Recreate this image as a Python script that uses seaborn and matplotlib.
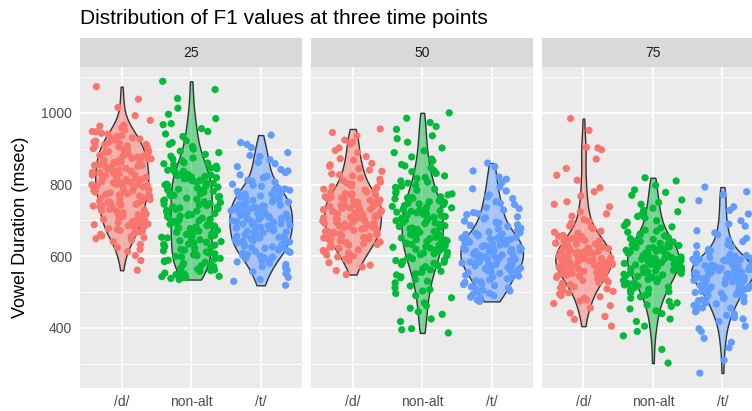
import numpy as np
import pandas as pd
import matplotlib
matplotlib.use("Agg")
import matplotlib.pyplot as plt
import seaborn as sns
from matplotlib.colors import to_rgba
from matplotlib.ticker import FixedLocator

# ---------------- data ----------------
categories = ["/d/", "non-alt", "/t/"]
time_points = [25, 50, 75]
palette = ["#F8766D", "#00BA38", "#619CFF"]

d25 = [1073, 1038, 1015, 992, 979, 966, 958, 947, 941, 936, 930, 927, 925, 921, 918, 912, 910,
       905, 903, 900, 898, 894, 890, 885, 884, 881, 879, 876, 873, 869, 867, 864, 862, 860, 858,
       853, 851, 847, 845, 842, 840, 839, 835, 831, 829, 826, 822, 820, 818, 816, 813, 811, 807,
       804, 801, 799, 797, 795, 792, 788, 786, 782, 779, 777, 774, 772, 770, 766, 763, 760, 755,
       753, 750, 748, 745, 743, 738, 736, 733, 731, 727, 725, 720, 716, 713, 711, 708, 705, 700,
       696, 692, 690, 688, 683, 677, 672, 668, 664, 661, 655, 649, 641, 633, 624, 613, 602, 588, 561,
       948, 934, 915, 907, 896, 887, 877, 871, 856, 849, 837, 833, 824, 814, 809, 802, 793, 784,
       780, 768, 758, 751, 741, 729, 718, 703, 694, 680, 670, 657, 645, 619, 952, 943, 919, 892,
       866, 854, 827, 805, 789, 762, 740, 722, 698, 675, 963, 928, 908, 888, 872, 848, 834, 815,
       798, 771, 747, 709, 685, 652]
n25 = [1088, 1040, 1013, 996, 984, 967, 956, 941, 934, 922, 917, 906, 899, 893, 884, 879, 871,
       866, 861, 855, 851, 846, 840, 837, 833, 828, 825, 821, 819, 816, 812, 807, 804, 799, 796,
       793, 790, 787, 783, 779, 774, 771, 767, 765, 762, 759, 755, 750, 747, 743, 741, 738, 735,
       731, 726, 723, 719, 717, 714, 711, 706, 703, 699, 694, 691, 689, 687, 682, 679, 675, 670,
       667, 663, 661, 658, 655, 651, 646, 643, 639, 637, 634, 631, 627, 622, 619, 615, 612, 610,
       607, 602, 598, 594, 589, 585, 583, 580, 576, 571, 567, 562, 558, 556, 553, 549, 544, 540,
       538, 535, 1065, 970, 948, 912, 889, 874, 858, 844, 831, 823, 810, 801, 785, 776, 769, 757,
       745, 733, 728, 716, 708, 697, 685, 672, 665, 653, 641, 629, 617, 604, 592, 578, 564, 547,
       826, 803, 781, 752, 724, 701, 677, 648, 625, 600, 573, 551, 860, 842, 815, 797, 770, 737,
       712, 684, 659, 633, 609, 587, 560, 543]
t25 = [938, 917, 903, 889, 878, 869, 858, 850, 842, 833, 827, 819, 812, 807, 801, 795, 790, 786,
       781, 777, 773, 769, 768, 765, 761, 758, 754, 751, 749, 747, 744, 741, 737, 734, 733, 731,
       727, 724, 721, 718, 717, 714, 711, 708, 704, 702, 701, 698, 695, 691, 688, 686, 685, 681,
       678, 675, 671, 670, 668, 665, 661, 658, 654, 653, 651, 647, 644, 640, 638, 636, 632, 628,
       624, 622, 620, 615, 611, 606, 604, 601, 596, 590, 584, 580, 577, 569, 561, 552, 541, 530, 519,
       912, 881, 862, 838, 823, 810, 798, 788, 779, 771, 763, 756, 746, 739, 729, 720, 712, 706,
       697, 690, 683, 676, 666, 659, 649, 642, 634, 626, 613, 598, 587, 571, 556, 535, 784, 760,
       742, 725, 709, 693, 679, 663, 645, 630, 617, 773, 752, 736, 715, 699, 680, 656, 641, 625,
       608, 594]
d50 = [955, 936, 924, 913, 902, 889, 878, 868, 859, 851, 844, 837, 830, 824, 818, 812, 807, 801,
       796, 791, 787, 782, 778, 775, 774, 770, 766, 762, 759, 757, 755, 751, 748, 744, 741, 739,
       737, 734, 730, 727, 723, 721, 720, 716, 713, 709, 706, 704, 702, 699, 695, 692, 690, 688,
       685, 681, 678, 676, 674, 670, 667, 663, 660, 659, 655, 651, 647, 645, 643, 638, 633, 631,
       628, 622, 616, 612, 609, 601, 598, 592, 582, 570, 549, 945, 918, 895, 872, 855, 840, 827,
       815, 804, 794, 785, 779, 772, 764, 756, 749, 742, 735, 728, 718, 711, 700, 693, 683, 672,
       665, 656, 649, 640, 626, 614, 603, 588, 575, 560, 771, 753, 738, 725, 707, 696, 680, 662,
       648, 635, 760, 745, 731, 714, 698, 684, 669, 652, 618]
n50 = [1000, 973, 954, 936, 918, 902, 889, 877, 866, 856, 847, 839, 831, 824, 817, 810, 804, 798,
       792, 787, 781, 776, 771, 766, 763, 761, 757, 752, 748, 746, 744, 739, 735, 733, 731, 727,
       723, 721, 719, 715, 711, 709, 707, 703, 699, 697, 695, 691, 687, 685, 683, 679, 675, 673,
       671, 667, 663, 661, 659, 655, 651, 649, 647, 643, 639, 637, 635, 631, 627, 625, 623, 619,
       615, 613, 611, 607, 602, 598, 593, 588, 583, 577, 571, 565, 558, 551, 543, 535, 526, 517,
       507, 496, 484, 470, 455, 438, 418, 398, 386, 985, 962, 928, 894, 871, 852, 836, 820, 807,
       795, 784, 774, 764, 755, 741, 729, 717, 705, 693, 681, 669, 657, 645, 633, 621, 609, 596,
       585, 574, 562, 548, 530, 512, 490, 462, 425, 395, 760, 737, 713, 689, 665, 641, 617, 590,
       555, 750, 725, 701, 677, 653, 629, 604, 580, 540, 503, 445]
t50 = [860, 838, 821, 806, 793, 782, 771, 761, 752, 744, 736, 729, 722, 716, 710, 704, 698, 693,
       688, 683, 678, 673, 668, 664, 661, 659, 655, 653, 651, 647, 645, 643, 639, 637, 635, 631,
       629, 627, 623, 621, 619, 616, 614, 612, 608, 606, 604, 600, 598, 597, 593, 591, 589, 585,
       583, 581, 577, 575, 573, 569, 567, 565, 561, 558, 556, 552, 547, 542, 537, 532, 527, 521,
       515, 509, 503, 497, 490, 483, 474, 850, 815, 788, 766, 748, 733, 719, 707, 695, 686, 676,
       666, 657, 649, 641, 633, 625, 617, 610, 602, 595, 587, 579, 571, 563, 554, 545, 534, 524,
       512, 500, 486, 478, 662, 644, 628, 613, 599, 584, 568, 550, 529, 505, 650, 634, 618, 603,
       588, 572, 559, 540, 518, 494]
d75 = [984, 951, 904, 897, 871, 845, 812, 791, 768, 752, 738, 724, 712, 702, 693, 684, 677, 670,
       664, 658, 655, 653, 648, 646, 643, 639, 637, 635, 631, 629, 627, 623, 621, 620, 616, 614,
       613, 609, 607, 606, 603, 601, 599, 596, 594, 593, 590, 588, 586, 583, 581, 580, 577, 575,
       574, 570, 568, 567, 564, 562, 560, 557, 555, 553, 549, 547, 545, 541, 537, 532, 527, 521,
       515, 509, 502, 495, 487, 478, 468, 456, 441, 424, 405, 902, 826, 780, 745, 718, 697, 681,
       667, 656, 644, 634, 625, 617, 611, 604, 597, 591, 584, 578, 571, 565, 558, 551, 543, 534,
       524, 512, 498, 483, 462, 432, 650, 636, 622, 610, 598, 587, 576, 563, 552, 539, 518, 490,
       641, 626, 612, 600, 589, 572, 559, 544, 528, 505, 475]
n75 = [819, 798, 785, 770, 757, 745, 734, 724, 715, 707, 699, 692, 685, 679, 673, 667, 662, 657,
       652, 647, 643, 640, 638, 634, 632, 630, 626, 624, 622, 618, 616, 614, 610, 608, 606, 602,
       600, 598, 594, 592, 590, 586, 584, 582, 578, 576, 574, 570, 568, 566, 562, 560, 558, 554,
       552, 550, 546, 541, 537, 532, 527, 522, 517, 511, 505, 498, 491, 483, 474, 464, 453, 440,
       425, 405, 378, 340, 302, 810, 778, 750, 728, 711, 695, 682, 670, 660, 649, 641, 633, 625,
       617, 609, 601, 593, 585, 577, 569, 561, 553, 544, 535, 525, 514, 501, 487, 470, 448, 418,
       636, 620, 604, 588, 572, 556, 539, 520, 495, 628, 612, 596, 580, 564, 548, 529, 508, 460, 390]
t75 = [793, 772, 755, 738, 718, 699, 684, 671, 660, 650, 641, 633, 626, 619, 613, 607, 602, 597,
       594, 592, 590, 588, 585, 583, 581, 579, 577, 575, 573, 571, 569, 567, 565, 564, 562, 560,
       558, 557, 555, 553, 551, 550, 548, 546, 544, 543, 541, 539, 537, 536, 534, 532, 529, 525,
       521, 518, 514, 510, 506, 502, 497, 492, 487, 482, 476, 470, 463, 456, 448, 439, 429, 418,
       405, 390, 371, 345, 310, 274, 780, 728, 690, 665, 645, 629, 616, 605, 596, 589, 582, 576,
       570, 563, 556, 549, 542, 535, 527, 519, 511, 503, 494, 484, 473, 460, 445, 425, 398, 600,
       586, 574, 561, 547, 533, 516, 499, 478, 455, 592, 579, 566, 552, 538, 523, 508, 489, 467,
       435, 360]

series = {25: [d25, n25, t25], 50: [d50, n50, t50], 75: [d75, n75, t75]}

rows = []
for t in time_points:
    for cat, vals in zip(categories, series[t]):
        for v in vals:
            rows.append((t, cat, v))
df = pd.DataFrame(rows, columns=["time", "cat", "f1"])

# ---------------- figure ----------------
sns.set_theme(style="white")
plt.rcParams["font.family"] = ["Liberation Sans", "DejaVu Sans"]
np.random.seed(7)

W, H = 752, 411
fig = plt.figure(figsize=(W / 100, H / 100), dpi=100)
fig.patch.set_facecolor("white")


def rect(x0, y0, x1, y1):
    return [x0 / W, 1 - y1 / H, (x1 - x0) / W, (y1 - y0) / H]


lefts = [80.0, 311.0, 541.7]
pw = 222.4
ptop, pbot = 66.7, 387.7
stop = 38.3

vmin, vmax = df["f1"].min(), df["f1"].max()
rng = vmax - vmin
ylo, yhi = vmin - 0.05 * rng, vmax + 0.05 * rng

for i, t in enumerate(time_points):
    L = lefts[i]
    ax = fig.add_axes(rect(L, ptop, L + pw, pbot))
    ax.set_facecolor("#EBEBEB")
    sub = df[df["time"] == t]
    n_before = len(ax.collections)
    sns.violinplot(data=sub, x="cat", y="f1", hue="cat", order=categories,
                   hue_order=categories, palette=palette, density_norm="area",
                   common_norm=True, cut=0, width=0.9, inner=None, linewidth=1.0,
                   linecolor="#333333", saturation=1, bw_adjust=0.85, legend=False, ax=ax)
    for coll in ax.collections[n_before:]:
        fc = coll.get_facecolor()
        if len(fc):
            coll.set_facecolor([to_rgba(c, 0.5) for c in fc])
        coll.set_zorder(2)
    n_before = len(ax.collections)
    sns.stripplot(data=sub, x="cat", y="f1", hue="cat", order=categories,
                  hue_order=categories, palette=palette, jitter=0.43, size=5.2,
                  linewidth=0, legend=False, ax=ax)
    for coll in ax.collections[n_before:]:
        coll.set_zorder(3)

    ax.set_xlim(-0.6, 2.6)
    ax.set_ylim(ylo, yhi)
    ax.yaxis.set_major_locator(FixedLocator([400, 600, 800, 1000]))
    ax.yaxis.set_minor_locator(FixedLocator([300, 500, 700, 900, 1100]))
    ax.grid(which="major", color="white", linewidth=1.2)
    ax.grid(which="minor", axis="y", color="white", linewidth=0.6)
    ax.set_axisbelow(True)
    for s in ax.spines.values():
        s.set_visible(False)
    ax.tick_params(which="major", length=3.1, width=0.8, color="#333333",
                   labelcolor="#4D4D4D", labelsize=10, pad=2.5)
    ax.tick_params(which="minor", length=0)
    ax.set_xlabel("")
    ax.set_ylabel("")
    if i > 0:
        ax.tick_params(axis="y", left=False, labelleft=False)

    sax = fig.add_axes(rect(L, stop, L + pw, ptop))
    sax.set_facecolor("#D9D9D9")
    sax.set_xticks([])
    sax.set_yticks([])
    for s in sax.spines.values():
        s.set_visible(False)
    sax.text(0.5, 0.5, str(t), ha="center", va="center", fontsize=10, color="#1A1A1A",
             transform=sax.transAxes)

fig.text(80 / W, 1 - 24.5 / H, "Distribution of F1 values at three time points",
         fontsize=15, color="black", ha="left", va="baseline")
fig.text(21 / W, 1 - ((ptop + pbot) / 2) / H, "Vowel Duration (msec)", fontsize=13,
         color="black", rotation=90, ha="center", va="center")

fig.savefig("out.png", dpi=100)
